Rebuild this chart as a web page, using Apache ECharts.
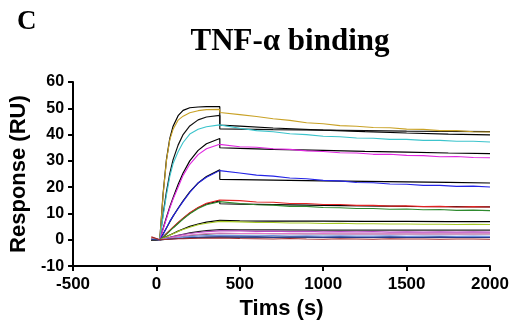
<!DOCTYPE html>
<html>
<head>
<meta charset="utf-8">
<script src="https://cdn.jsdelivr.net/npm/echarts@6/dist/echarts.min.js"></script>
<style>html,body{margin:0;padding:0;background:#fff}#c{width:519px;height:325px}</style>
</head>
<body>
<div id="c"></div>
<script>
// Time grids (s)
const tData = [-30, 20, 40, 60, 80, 100, 130, 160, 200, 250, 300, 379, 381, 500, 600, 700, 800, 900, 1000, 1100, 1200, 1300, 1400, 1500, 1600, 1700, 1800, 1900, 2000];
const tFit = [-30, 20, 40, 60, 80, 100, 130, 160, 200, 250, 300, 380, 380, 500, 700, 1000, 1250, 1500, 1750, 2000];

// Measured responses (RU)
const yellow  = [0.6, 0, 17, 30, 38, 42, 45.5, 47, 48.3, 49.1, 49.5, 49.6, 48.4, 47.6, 46.9, 46.0, 45.4, 44.5, 44.1, 43.4, 43.2, 42.7, 42.6, 42.1, 42.0, 41.5, 41.5, 41.1, 41.0];
const cyan    = [0.4, 0, 9, 17, 24, 29, 33.5, 37, 40.2, 42, 43, 43.7, 43.2, 42.4, 41.5, 41.1, 40.3, 40.0, 39.4, 39.2, 38.7, 38.6, 38.2, 38.2, 37.8, 37.8, 37.5, 37.5, 37.2];
const magenta = [0.5, 0, 4, 8, 12, 15.5, 20, 24.5, 28.7, 32.4, 34.6, 36.3, 36.2, 35.4, 35.2, 34.6, 34.4, 33.8, 33.6, 33.1, 33.0, 32.5, 32.5, 32.1, 32.0, 31.6, 31.7, 31.3, 31.2];
const blue    = [0.3, 0, 2, 4.5, 7, 9, 11.8, 14.6, 18, 21.6, 23.8, 26.3, 26.0, 25.4, 24.6, 24.2, 23.5, 23.2, 22.6, 22.4, 21.8, 21.7, 21.2, 21.1, 20.7, 20.7, 20.3, 20.4, 20.1];
const red     = [1.0, 0, 1, 2.3, 3.6, 4.8, 6.6, 8.2, 10.3, 12.3, 13.9, 15.1, 15.0, 14.9, 14.4, 14.3, 13.8, 13.8, 13.4, 13.4, 13.1, 13.1, 12.8, 12.9, 12.6, 12.7, 12.5, 12.6, 12.5];
const green   = [0.5, 0, 0.9, 2.1, 3.3, 4.5, 6.2, 7.9, 9.9, 11.9, 13.3, 14.5, 14.2, 13.8, 13.3, 13.2, 12.7, 12.7, 12.3, 12.2, 11.9, 11.9, 11.6, 11.7, 11.4, 11.5, 11.2, 11.3, 11.1];
const olive   = [0.3, 0, 0.5, 1.1, 1.7, 2.3, 3.2, 3.9, 4.8, 5.7, 6.3, 7.0, 6.9, 6.8, 6.6, 6.6, 6.4, 6.4, 6.2, 6.3, 6.1, 6.1, 6.0, 6.0, 5.9, 5.9, 5.8, 5.9, 5.8];
const purple  = [0.2, 0, 0.3, 0.6, 0.9, 1.2, 1.6, 2.0, 2.4, 2.8, 3.1, 3.4, 3.3, 3.4, 3.2, 3.3, 3.1, 3.2, 3.0, 3.1, 3.0, 3.1, 2.9, 3.0, 2.9, 3.0, 2.9, 3.0, 2.9];
const pink    = [0.4, 0, 0.2, 0.5, 0.7, 0.9, 1.2, 1.5, 1.8, 2.1, 2.4, 2.6, 2.6, 2.4, 2.5, 2.3, 2.4, 2.2, 2.4, 2.2, 2.3, 2.2, 2.3, 2.2, 2.3, 2.2, 2.3, 2.2, 2.3];
const ltblue  = [0.2, 0, 0.2, 0.3, 0.5, 0.6, 0.8, 1.0, 1.2, 1.4, 1.6, 1.7, 1.7, 1.6, 1.5, 1.6, 1.4, 1.5, 1.4, 1.5, 1.4, 1.4, 1.5, 1.3, 1.4, 1.4, 1.3, 1.4, 1.3];
const navy    = [0.1, 0, 0.1, 0.2, 0.3, 0.4, 0.5, 0.6, 0.8, 0.9, 1.0, 1.1, 1.1, 1.0, 1.1, 0.9, 1.0, 1.0, 0.9, 1.0, 0.9, 0.9, 1.0, 0.9, 0.9, 1.0, 0.9, 0.9, 0.9];
const darkred = [1.2, 0, 0.1, 0.1, 0.2, 0.3, 0.4, 0.4, 0.5, 0.6, 0.6, 0.7, 0.6, 0.5, 0.4, 0.3, 0.5, 0.3, 0.2, 0.4, 0.3, 0.2, 0.4, 0.3, 0.3, 0.2, 0.3, 0.3, 0.2];

// Fitted curves (RU)
const fitA = [0, 0, 17.5, 30.5, 38.5, 43.2, 47.2, 49.2, 50.2, 50.5, 50.6, 50.6, 43.6, 43.2, 42.5, 41.7, 41.1, 40.6, 40.2, 39.9];
const fitB = [0, 0, 9.8, 18.2, 25.2, 30.5, 36, 40, 43.3, 45.6, 46.7, 47.3, 42.2, 42.1, 41.9, 41.7, 41.5, 41.3, 41.2, 41.1];
const fitC = [0, 0, 4.3, 8.5, 12.5, 16, 21, 25.4, 30, 34, 36.5, 38.5, 35.0, 34.8, 34.4, 34.0, 33.6, 33.3, 33.0, 32.8];
const fitD = [0, 0, 2.2, 4.5, 6.8, 9, 12, 14.8, 18.2, 21.6, 24.1, 26.6, 23.0, 22.9, 22.7, 22.4, 22.2, 22.0, 21.8, 21.6];
const fitE = [0, 0, 1.1, 2.3, 3.5, 4.7, 6.4, 8.1, 10.1, 12.2, 13.6, 14.8, 13.7, 13.6, 13.4, 13.1, 12.9, 12.7, 12.6, 12.5];
const fitF = [0, 0, 0.6, 1.2, 1.8, 2.4, 3.3, 4.1, 5.1, 6.0, 6.7, 7.4, 7.2, 7.2, 7.1, 7.1, 7.0, 7.0, 6.9, 6.9];
const fitG = [0, 0, 0.3, 0.6, 0.9, 1.2, 1.7, 2.1, 2.6, 3.1, 3.5, 3.9, 3.8, 3.8, 3.8, 3.7, 3.7, 3.7, 3.7, 3.7];
const fitH = [0, 0, 0.2, 0.4, 0.6, 0.8, 1.1, 1.3, 1.6, 1.9, 2.1, 2.4, 2.3, 2.3, 2.3, 2.2, 2.2, 2.2, 2.2, 2.2];
const fitI = [0, 0, 0.1, 0.2, 0.3, 0.4, 0.5, 0.6, 0.7, 0.8, 0.9, 1.0, 1.0, 1.0, 1.0, 1.0, 1.0, 1.0, 1.0, 1.0];

const xTicks = [-500, 0, 500, 1000, 1500, 2000];
const yTicks = [-10, 0, 10, 20, 30, 40, 50, 60];

const dataSets = [
  [yellow, '#c9a227'], [cyan, '#3cc4cc'], [magenta, '#e028e0'], [blue, '#2424e6'],
  [red, '#e02424'], [green, '#2e8a2e'], [olive, '#a6c826'], [purple, '#b848c0'],
  [pink, '#e07ac8'], [ltblue, '#7090e0'], [navy, '#243a8c'], [darkred, '#a02c2c']
];
const fitSets = [
  [fitA, '#000'], [fitB, '#111'], [fitC, '#000'], [fitD, '#000'], [fitE, '#000'],
  [fitF, '#000'], [fitG, '#222'], [fitH, '#777'], [fitI, '#333']
];

const pair = (t, v) => t.map((x, i) => [x, v[i]]);
const series = [];
fitSets.forEach(([v, c]) => series.push({
  type: 'line', data: pair(tFit, v), showSymbol: false, symbol: 'none',
  lineStyle: { color: c, width: 1.2 }, silent: true, animation: false
}));
dataSets.forEach(([v, c]) => series.push({
  type: 'line', data: pair(tData, v), showSymbol: false, symbol: 'none',
  lineStyle: { color: c, width: 1.1 }, silent: true, animation: false
}));

const sans = '"Liberation Sans", Arial, sans-serif';
const serif = '"Liberation Serif", "Times New Roman", serif';

const chart = echarts.init(document.getElementById('c'), null, { renderer: 'canvas' });
chart.setOption({
  animation: false,
  backgroundColor: '#fff',
  grid: { left: 68, right: 29, top: 82, bottom: 57, containLabel: false },
  graphic: [
    { type: 'text', left: 17, top: 9, style: { text: 'C', font: 'bold 27px ' + serif, fill: '#000' } },
    { type: 'text', x: 290, y: 26, style: { text: 'TNF-α binding', font: 'bold 31px ' + serif, fill: '#000', textAlign: 'center' } }
  ],
  xAxis: {
    type: 'value', min: xTicks[0], max: xTicks[xTicks.length - 1], interval: 500,
    name: 'Tims (s)', nameLocation: 'middle', nameGap: 30,
    nameTextStyle: { fontFamily: sans, fontWeight: 'bold', fontSize: 22, color: '#000' },
    axisLine: { onZero: false, lineStyle: { color: '#000', width: 2 } },
    axisTick: { inside: false, length: 5, lineStyle: { color: '#000', width: 2 } },
    axisLabel: { margin: 10, fontFamily: sans, fontWeight: 'bold', fontSize: 17, color: '#000', formatter: v => String(v) },
    splitLine: { show: false }
  },
  yAxis: {
    type: 'value', min: yTicks[0], max: yTicks[yTicks.length - 1], interval: 10,
    name: 'Response (RU)', nameLocation: 'middle', nameGap: 31, nameRotate: 90,
    nameTextStyle: { fontFamily: sans, fontWeight: 'bold', fontSize: 22, color: '#000' },
    axisLine: { onZero: false, lineStyle: { color: '#000', width: 2 } },
    axisTick: { inside: false, length: 5, lineStyle: { color: '#000', width: 2 } },
    axisLabel: { margin: 9, fontFamily: sans, fontWeight: 'bold', fontSize: 16, color: '#000', formatter: v => String(v) },
    splitLine: { show: false }
  },
  series
});
</script>
</body>
</html>
